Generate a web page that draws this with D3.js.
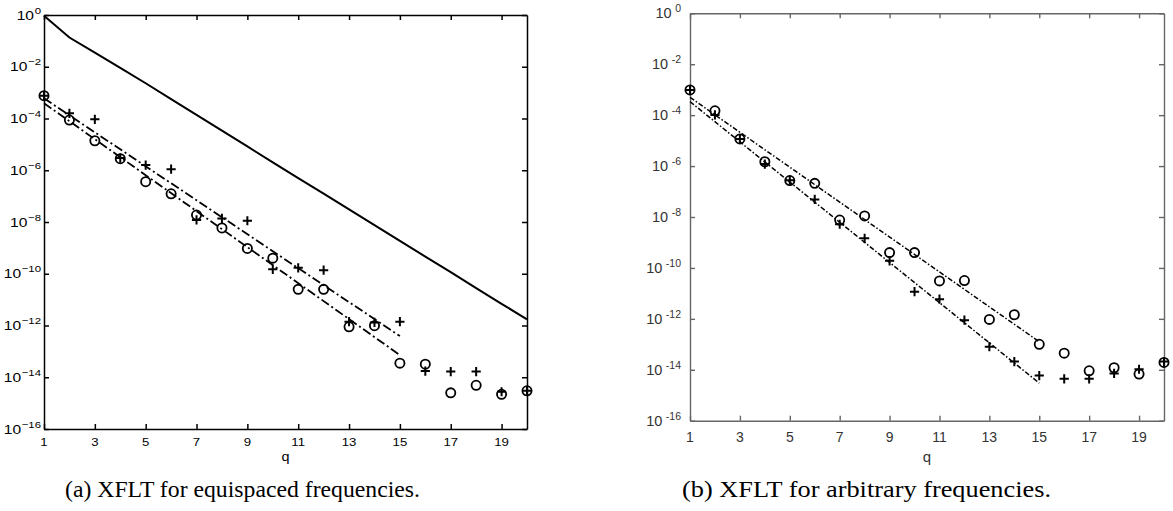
<!DOCTYPE html>
<html><head><meta charset="utf-8">
<script src="https://cdn.jsdelivr.net/npm/d3@7"></script>
<style>body{margin:0;background:#fff}svg{display:block}</style>
</head><body>
<svg id="c" width="1173" height="511"></svg>
<script>
const q = d3.range(1, 21);
const xTicks = [1,3,5,7,9,11,13,15,17,19];
const yExps = [0,-2,-4,-6,-8,-10,-12,-14,-16];

// Panel (a): equispaced frequencies
const aBound  = [9.3e-1,1.35e-1,3.5e-2,9.1e-3,2.3e-3,5.6e-4,1.38e-4,3.4e-5,8.3e-6,2.0e-6,5.0e-7,1.26e-7,3.1e-8,7.6e-9,1.86e-9,4.6e-10,1.15e-10,2.8e-11,6.9e-12,1.74e-12];
const aCircle = [7.6e-4,8.7e-5,1.38e-5,2.8e-6,3.6e-7,1.23e-7,1.86e-8,5.9e-9,9.5e-10,4.0e-10,2.5e-11,2.5e-11,8.9e-13,9.8e-13,3.5e-14,3.2e-14,2.5e-15,4.9e-15,2.2e-15,3.0e-15];
const aPlus   = [7.6e-4,1.58e-4,9.3e-5,2.95e-6,1.58e-6,1.1e-6,1.2e-8,1.38e-8,1.12e-8,1.48e-10,1.7e-10,1.38e-10,1.41e-12,1.32e-12,1.41e-12,1.74e-14,1.66e-14,1.66e-14,2.75e-15,3.0e-15];
const aFitQ   = [1, 15];
const aFitUp  = [6.0e-4, 3.9e-13];
const aFitLo  = [3.9e-4, 7.2e-14];

// Panel (b): arbitrary frequencies
const bCircle = [9.8e-4,1.48e-4,1.17e-5,1.48e-6,2.7e-7,2.1e-7,7.6e-9,1.1e-8,4.0e-10,4.0e-10,3.1e-11,3.2e-11,9.5e-13,1.45e-12,1.0e-13,4.5e-14,9.1e-15,1.2e-14,6.8e-15,1.95e-14];
const bPlus   = [9.8e-4,1.02e-4,1.17e-5,1.2e-6,2.8e-7,4.9e-8,5.2e-9,1.45e-9,1.9e-10,1.17e-11,5.9e-12,8.9e-13,8.1e-14,2.1e-14,5.9e-15,4.4e-15,4.4e-15,7.2e-15,1.05e-14,2.1e-14];
const bFitQ   = [1, 15];
const bFitUp  = [5.0e-4, 1.26e-13];
const bFitLo  = [3.4e-4, 3.0e-15];

const captions = ["(a) XFLT for equispaced frequencies.", "(b) XFLT for arbitrary frequencies."];

const svg = d3.select("#c");
const SANS = "Liberation Sans, Arial, Helvetica, sans-serif";

function panel(o) {
  const x = d3.scaleLinear().domain([1, 20]).range([o.l, o.r]);
  const y = d3.scaleLog().domain([1e-16, 1]).range([o.b, o.t]);
  const g = svg.append("g");
  const yTickVals = yExps.map(e => Math.pow(10, e));
  const ax = (axis, tr) => {
    const a = g.append("g").attr("transform", tr).call(axis);
    a.selectAll("path.domain").attr("stroke", o.axisColor).attr("stroke-width", o.axisW);
    a.selectAll(".tick line").attr("stroke", o.axisColor).attr("stroke-width", o.axisW);
    a.selectAll(".tick text").remove();
    return a;
  };
  ax(d3.axisBottom(x).tickValues(xTicks).tickSizeInner(-5).tickSizeOuter(0).tickFormat(""), `translate(0,${o.b})`);
  ax(d3.axisTop(x).tickValues(xTicks).tickSizeInner(-5).tickSizeOuter(0).tickFormat(""), `translate(0,${o.t})`);
  ax(d3.axisLeft(y).tickValues(yTickVals).tickSizeInner(-5).tickSizeOuter(0).tickFormat(""), `translate(${o.l},0)`);
  ax(d3.axisRight(y).tickValues(yTickVals).tickSizeInner(-5).tickSizeOuter(0).tickFormat(""), `translate(${o.r},0)`);

  // x tick labels
  g.selectAll(".xl").data(xTicks).join("text")
    .attr("transform", d => `translate(${x(d)},${o.b + o.xlOff}) scale(${o.sx},1)`)
    .attr("text-anchor", "middle")
    .attr("font-family", SANS)
    .attr("font-size", o.xfs).attr("fill", o.textColor).text(d => d);
  // y tick labels
  yExps.forEach(e => {
    const t = g.append("text")
      .attr("transform", `translate(${o.l - o.ylOff},${y(Math.pow(10, e)) + o.ylDy}) scale(${o.sx},1)`)
      .attr("text-anchor", "end")
      .attr("font-family", SANS)
      .attr("font-size", o.fs).attr("fill", o.textColor);
    t.append("tspan").text("10");
    t.append("tspan").attr("dy", o.supDy).attr("dx", o.supGap).attr("font-size", o.supFs)
      .text(e === 0 ? "0" : o.minus + String(-e));
  });
  g.append("text").attr("transform", `translate(${(o.l + o.r) / 2},${o.b + o.qOff}) scale(${o.sx},1)`)
    .attr("text-anchor", "middle").attr("font-family", SANS)
    .attr("font-size", o.xfs + 1).attr("fill", o.textColor).text("q");

  const line = d3.line().x(d => x(d[0])).y(d => y(d[1]));
  if (o.bound) {
    g.append("path").datum(q.map((d, i) => [d, o.bound[i]]))
      .attr("d", line).attr("fill", "none").attr("stroke", "#000").attr("stroke-width", 2);
  }
  [o.fitUp, o.fitLo].forEach(f => {
    g.append("path").datum(o.fitQ.map((d, i) => [d, f[i]]))
      .attr("d", line).attr("fill", "none").attr("stroke", "#000")
      .attr("stroke-width", o.fitW).attr("stroke-dasharray", o.dash);
  });
  g.selectAll(".circ").data(q.map((d, i) => [d, o.circle[i]])).join("circle")
    .attr("cx", d => x(d[0])).attr("cy", d => y(d[1])).attr("r", 4.6)
    .attr("fill", "none").attr("stroke", "#000").attr("stroke-width", 1.8);
  const s = 4.6;
  g.selectAll(".plus").data(q.map((d, i) => [d, o.plus[i]])).join("path")
    .attr("d", d => { const cx = x(d[0]), cy = y(d[1]);
      return `M${cx - s},${cy}H${cx + s}M${cx},${cy - s}V${cy + s}`; })
    .attr("fill", "none").attr("stroke", "#000").attr("stroke-width", 2);
}

panel({l: 44, r: 527, t: 15, b: 429, axisColor: "#000", axisW: 1.5, textColor: "#000",
  fs: 13, xfs: 11, sx: 1.2, supFs: 9.5, supDy: -6, ylOff: 3, ylDy: 4.5, supGap: 0.5, xlOff: 17, qOff: 32, minus: "\u2212",
  bound: aBound, circle: aCircle, plus: aPlus, fitQ: aFitQ, fitUp: aFitUp, fitLo: aFitLo, fitW: 1.8, dash: "9,3,2,3"});
panel({l: 690, r: 1164, t: 13.3, b: 420.7, axisColor: "#666", axisW: 1.4, textColor: "#333",
  fs: 14.5, xfs: 14, sx: 1, supFs: 10.5, supDy: -6, ylOff: 9, ylDy: 5, supGap: 3.5, xlOff: 21, qOff: 41, minus: "-",
  circle: bCircle, plus: bPlus, fitQ: bFitQ, fitUp: bFitUp, fitLo: bFitLo, fitW: 1.5, dash: "5,2,1.5,2"});

svg.append("text").attr("x", 65).attr("y", 497).attr("font-family", "Liberation Serif, serif")
  .attr("font-size", 22.5).attr("textLength", 355).attr("lengthAdjust", "spacingAndGlyphs")
  .attr("fill", "#000").text(captions[0]);
svg.append("text").attr("x", 682).attr("y", 497).attr("font-family", "Liberation Serif, serif")
  .attr("font-size", 22.5).attr("textLength", 369).attr("lengthAdjust", "spacingAndGlyphs")
  .attr("fill", "#000").text(captions[1]);
</script>
</body></html>
